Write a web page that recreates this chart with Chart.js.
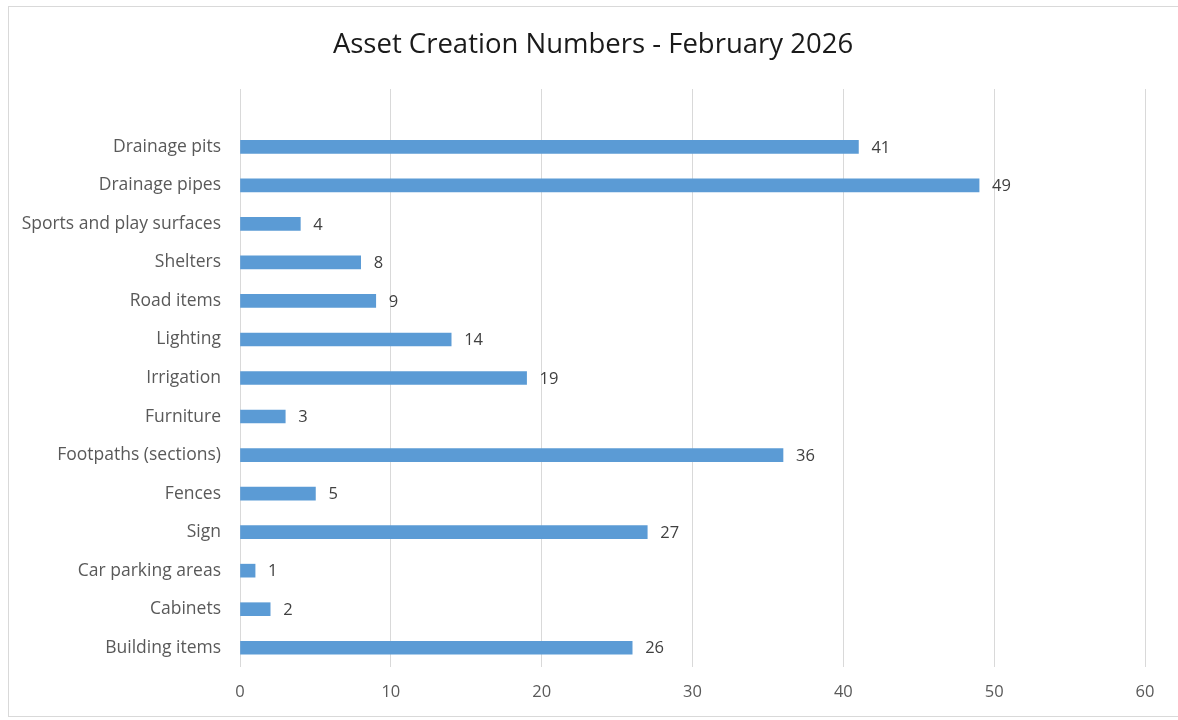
<!DOCTYPE html>
<html>
<head>
<meta charset="utf-8">
<script src="https://cdn.jsdelivr.net/npm/chart.js@4"></script>
<style>
  html, body { margin: 0; padding: 0; background: #fff; }
  #wrap { position: relative; width: 1178px; height: 720px; }
  #frame { position: absolute; left: 8px; top: 6px; width: 1170px; height: 711px;
           border: 1px solid #d9d9d9; border-right: none; box-sizing: border-box; pointer-events: none; }
</style>
</head>
<body>
<div id="wrap">
  <canvas id="chart" width="1178" height="720"></canvas>
  <div id="frame"></div>
</div>
<script>
// categorias de cima para baixo (a primeira linha vazia existe no original)
const categories = ['', 'Drainage pits', 'Drainage pipes', 'Sports and play surfaces', 'Shelters',
  'Road items', 'Lighting', 'Irrigation', 'Furniture', 'Footpaths (sections)', 'Fences',
  'Sign', 'Car parking areas', 'Cabinets', 'Building items'];
const counts = [null, 41, 49, 4, 8, 9, 14, 19, 3, 36, 5, 27, 1, 2, 26];
const xTicks = [0, 10, 20, 30, 40, 50, 60];
const chartTitle = 'Asset Creation Numbers - February 2026';

const FONT = 'Open Sans';

// título centrado na moldura inteira (não só na área do gráfico)
const frameTitle = {
  id: 'frameTitle',
  afterDraw(chart) {
    const ctx = chart.ctx;
    ctx.save();
    ctx.font = '27.5px "' + FONT + '"';
    ctx.fillStyle = '#1a1a1a';
    ctx.textAlign = 'center';
    ctx.textBaseline = 'middle';
    ctx.fillText(chartTitle, 593, 45);
    ctx.restore();
  }
};

// rótulos de valor à direita de cada barra
const valueLabels = {
  id: 'valueLabels',
  afterDatasetsDraw(chart) {
    const ctx = chart.ctx;
    const meta = chart.getDatasetMeta(0);
    ctx.save();
    ctx.font = '16.5px "' + FONT + '"';
    ctx.fillStyle = '#404040';
    ctx.textBaseline = 'middle';
    ctx.textAlign = 'left';
    meta.data.forEach((bar, i) => {
      if (counts[i] == null) return;
      ctx.fillText(String(counts[i]), bar.x + 13, bar.y + 1);
    });
    ctx.restore();
  }
};

new Chart(document.getElementById('chart'), {
  type: 'bar',
  data: {
    labels: categories,
    datasets: [{
      data: counts,
      backgroundColor: '#5B9BD5',
      borderWidth: 0,
      barThickness: 13
    }]
  },
  options: {
    indexAxis: 'y',
    responsive: false,
    animation: false,
    layout: { padding: { left: 0, right: 33, top: 89, bottom: 0 } },
    scales: {
      x: {
        min: 0, max: 60,
        afterBuildTicks: s => { s.ticks = xTicks.map(v => ({ value: v })); },
        grid: { color: '#d9d9d9', lineWidth: 1, drawTicks: false },
        border: { display: false },
        ticks: { color: '#595959', font: { family: FONT, size: 16.5 }, padding: 15 },
        afterFit: s => { s.height = 53; }
      },
      y: {
        grid: { display: false, drawTicks: false },
        border: { display: false },
        ticks: { color: '#595959', font: { family: FONT, size: 17.5 }, padding: 19, autoSkip: false },
        afterFit: s => { s.width = 240; }
      }
    },
    plugins: {
      legend: { display: false },
      tooltip: { enabled: false },
      title: { display: false }
    }
  },
  plugins: [valueLabels, frameTitle]
});
</script>
</body>
</html>
